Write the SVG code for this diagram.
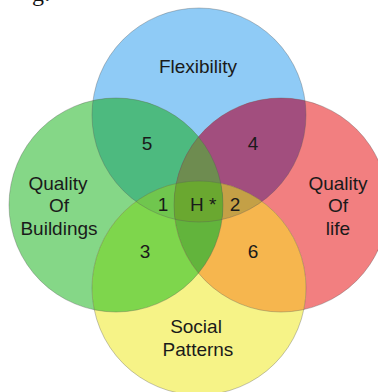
<svg xmlns="http://www.w3.org/2000/svg" width="378" height="392" viewBox="0 0 378 392">
<defs>
<style>
.lbl{font-family:"Liberation Sans",Arial,sans-serif;font-size:19px;fill:#1a1a1a;text-anchor:middle}
.edge{fill:none;stroke:#5a5a5a;stroke-opacity:0.35;stroke-width:1}
</style>
<clipPath id="cB"><circle cx="199" cy="115" r="107"/></clipPath>
<clipPath id="cG"><circle cx="116" cy="205" r="107"/></clipPath>
<clipPath id="cR"><circle cx="281" cy="205" r="107"/></clipPath>
<clipPath id="cY"><circle cx="199" cy="288" r="107"/></clipPath>
</defs>
<rect width="378" height="392" fill="#ffffff"/>
<text x="32" y="1" font-family="Liberation Serif, serif" font-size="24" fill="#111">g:</text>

<g id="flexibility">
<circle cx="199" cy="115" r="107" fill="#8fcbf6"/>
</g>
<g id="quality-of-buildings">
<circle cx="116" cy="205" r="107" fill="#85d787"/>
</g>
<g id="quality-of-life">
<circle cx="281" cy="205" r="107" fill="#f27f80"/>
</g>
<g id="social-patterns">
<circle cx="199" cy="288" r="107" fill="#f6f387"/>
</g>

<g id="overlaps">
<!-- pairwise -->
<circle cx="199" cy="115" r="107" fill="#4dba7f" clip-path="url(#cG)"/>
<circle cx="199" cy="115" r="107" fill="#a24e7e" clip-path="url(#cR)"/>
<circle cx="199" cy="288" r="107" fill="#7ed64c" clip-path="url(#cG)"/>
<circle cx="199" cy="288" r="107" fill="#f6b64e" clip-path="url(#cR)"/>
<!-- triples -->
<g clip-path="url(#cG)"><circle cx="199" cy="115" r="107" fill="#70c64e" clip-path="url(#cY)"/></g>
<g clip-path="url(#cR)"><circle cx="199" cy="115" r="107" fill="#c4a046" clip-path="url(#cY)"/></g>
<g clip-path="url(#cG)"><circle cx="199" cy="115" r="107" fill="#6e8c50" clip-path="url(#cR)"/></g>
<g clip-path="url(#cG)"><circle cx="199" cy="288" r="107" fill="#62b43c" clip-path="url(#cR)"/></g>
<!-- all four -->
<g clip-path="url(#cG)"><g clip-path="url(#cR)"><circle cx="199" cy="115" r="107" fill="#6aa830" clip-path="url(#cY)"/></g></g>
</g>

<g id="outlines">
<circle class="edge" cx="199" cy="115" r="107"/>
<circle class="edge" cx="116" cy="205" r="107"/>
<circle class="edge" cx="281" cy="205" r="107"/>
<circle class="edge" cx="199" cy="288" r="107"/>
</g>

<g id="labels">
<text class="lbl" x="198" y="73">Flexibility</text>
<text class="lbl" x="58" y="190">Quality</text>
<text class="lbl" x="59" y="212">Of</text>
<text class="lbl" x="59" y="235">Buildings</text>
<text class="lbl" x="338" y="190">Quality</text>
<text class="lbl" x="338" y="212">Of</text>
<text class="lbl" x="338" y="235">life</text>
<text class="lbl" x="196" y="333">Social</text>
<text class="lbl" x="198" y="356">Patterns</text>
</g>

<g id="region-numbers">
<text class="lbl" x="147" y="150">5</text>
<text class="lbl" x="253" y="150">4</text>
<text class="lbl" x="163" y="211">1</text>
<text class="lbl" x="190" y="211" style="text-anchor:start">H *</text>
<text class="lbl" x="235" y="211">2</text>
<text class="lbl" x="145" y="258">3</text>
<text class="lbl" x="253" y="258">6</text>
</g>
</svg>
